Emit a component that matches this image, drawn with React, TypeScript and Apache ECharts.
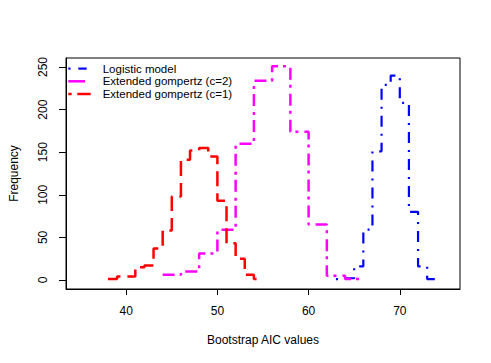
import React, { useEffect, useRef } from "react";
import * as echarts from "echarts";

// Bootstrap AIC values (x) and frequencies (y), drawn as R-style steps
const redX = [38, 39, 40, 41, 42, 43, 44, 45, 46, 47, 48, 49, 50, 51, 52, 53, 54, 55];
const redY = [1, 4, 4, 15, 17, 37, 58, 98, 141, 152, 155, 145, 93, 43, 25, 6, 1, 1];

const magentaX = [44, 46, 48, 50, 52, 54, 56, 58, 60, 62, 64, 66];
const magentaY = [6, 10, 31, 59, 160, 234, 251, 174, 65, 5, 1, 1];

const blueX = [63, 64, 65, 66, 67, 68, 69, 70, 71, 72, 73, 74];
const blueY = [1, 2, 16, 59, 151, 229, 240, 208, 80, 16, 1, 1];

const xTicks = [40, 50, 60, 70];
const yTicks = [0, 50, 100, 150, 200, 250];

const legendNames = ["Logistic model", "Extended gompertz (c=2)", "Extended gompertz (c=1)"];

const FONT = '"Liberation Sans", Arial, Helvetica, sans-serif';

const pairs = (xs: number[], ys: number[]) => xs.map((x, i) => [x, ys[i]]);

export default function App() {
  const ref = useRef<HTMLDivElement>(null);
  useEffect(() => {
    const chart = echarts.init(ref.current!, null, { renderer: "svg" });
    const legendY = [68.6, 81.3, 94.0];
    chart.setOption({
      animation: false,
      backgroundColor: "#ffffff",
      textStyle: { fontFamily: FONT, fontSize: 12, color: "#000" },
      grid: {
        left: 59,
        right: 31,
        top: 58,
        bottom: 74,
        show: true,
        borderColor: "#000",
        borderWidth: 1,
        backgroundColor: "transparent",
      },
      xAxis: {
        type: "value",
        min: 33.4,
        max: 76.6,
        splitLine: { show: false },
        axisLine: { show: true, onZero: false, lineStyle: { color: "#000", width: 1 } },
        axisTick: { show: true, length: 6, customValues: xTicks, lineStyle: { color: "#000" } },
        axisLabel: { customValues: xTicks, margin: 16, fontSize: 12, color: "#000", fontFamily: FONT },
        name: "Bootstrap AIC values",
        nameLocation: "middle",
        nameGap: 45,
        nameTextStyle: { fontSize: 12, color: "#000", fontFamily: FONT },
      },
      yAxis: {
        type: "value",
        min: -10.6,
        max: 260.6,
        splitLine: { show: false },
        axisLine: { show: true, onZero: false, lineStyle: { color: "#000", width: 1 } },
        axisTick: { show: true, length: 7, customValues: yTicks, lineStyle: { color: "#000" } },
        axisLabel: { customValues: yTicks, margin: 17, rotate: 90, fontSize: 12, color: "#000", fontFamily: FONT },
        name: "Frequency",
        nameLocation: "middle",
        nameGap: 46,
        nameTextStyle: { fontSize: 12, color: "#000", fontFamily: FONT },
      },
      series: [
        {
          type: "line",
          name: legendNames[0],
          data: pairs(blueX, blueY),
          step: "end",
          showSymbol: false,
          lineStyle: { color: "#0000ff", width: 2.2, type: [2, 7, 11, 7], cap: "butt" },
        },
        {
          type: "line",
          name: legendNames[1],
          data: pairs(magentaX, magentaY),
          step: "end",
          showSymbol: false,
          lineStyle: { color: "#ff00ff", width: 2.5, type: [12, 5, 3, 6], cap: "butt" },
        },
        {
          type: "line",
          name: legendNames[2],
          data: pairs(redX, redY),
          step: "end",
          showSymbol: false,
          lineStyle: { color: "#ff0000", width: 2.5, type: [15, 7], cap: "butt" },
        },
      ],
      graphic: [
        { type: "line", shape: { x1: 68.3, y1: legendY[0], x2: 70.5, y2: legendY[0] }, style: { stroke: "#0000ff", lineWidth: 2.2 } },
        { type: "line", shape: { x1: 78.3, y1: legendY[0], x2: 86.7, y2: legendY[0] }, style: { stroke: "#0000ff", lineWidth: 2.2 } },
        { type: "line", shape: { x1: 68.3, y1: legendY[1], x2: 85, y2: legendY[1] }, style: { stroke: "#ff00ff", lineWidth: 2.5 } },
        { type: "line", shape: { x1: 68.3, y1: legendY[2], x2: 71.7, y2: legendY[2] }, style: { stroke: "#ff0000", lineWidth: 2.5 } },
        { type: "line", shape: { x1: 77.3, y1: legendY[2], x2: 90.7, y2: legendY[2] }, style: { stroke: "#ff0000", lineWidth: 2.5 } },
        ...legendNames.map((t, i) => ({
          type: "text",
          x: 102.7,
          y: legendY[i],
          style: {
            text: t,
            fill: "#000",
            fontFamily: FONT,
            fontSize: 11.5,
            verticalAlign: "middle",
            align: "left",
          },
        })),
      ],
    });
    return () => chart.dispose();
  }, []);
  return (
    <div
      ref={ref}
      style={{ position: "fixed", left: 0, top: 0, width: 491, height: 363, background: "#fff" }}
    />
  );
}
